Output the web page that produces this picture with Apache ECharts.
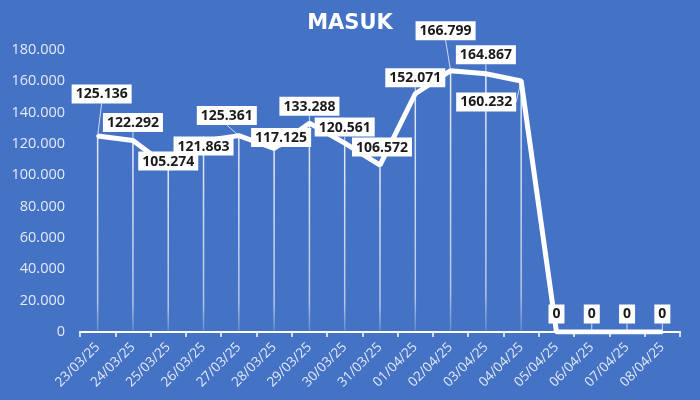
<!DOCTYPE html>
<html>
<head>
<meta charset="utf-8">
<script src="https://cdn.jsdelivr.net/npm/echarts@6/dist/echarts.min.js"></script>
<style>html,body{margin:0;padding:0;background:#4472C4;}#c{width:700px;height:400px;}</style>
</head>
<body>
<div id="c"></div>
<script>
var categories = ['23/03/25','24/03/25','25/03/25','26/03/25','27/03/25','28/03/25','29/03/25','30/03/25','31/03/25','01/04/25','02/04/25','03/04/25','04/04/25','05/04/25','06/04/25','07/04/25','08/04/25'];
var masuk = [125136,122292,105274,121863,125361,117125,133288,120561,106572,152071,166799,164867,160232,0,0,0,0];
var yTicks = {min:0, max:180000, interval:20000};

function fmt(v){ return String(v).replace(/\B(?=(\d{3})+(?!\d))/g,'.'); }

// label nudges (layout only)
var nudges = [[4,-26],[0,-2],[0,10],[0,21],[-12,-4],[7,5],[0,-1],[0,0],[2,-2],[0,0],[-5,-24],[0,-3],[-35,37],[0,-2],[0,-2],[0,-2],[0,-2]];

var chart = echarts.init(document.getElementById('c'));
chart.setOption({
  backgroundColor:'#4472C4',
  animation:false,
  title:{text:'MASUK',left:'center',top:8,textStyle:{color:'#ffffff',fontFamily:'DejaVu Sans',fontWeight:'bold',fontSize:21}},
  grid:{left:80,right:20,top:50,bottom:68},
  xAxis:{type:'category',data:categories,boundaryGap:true,
    axisLine:{lineStyle:{color:'#ffffff',width:2}},
    axisTick:{show:true,length:5,lineStyle:{color:'#ffffff',width:1.5}},
    axisLabel:{rotate:45,color:'#e4eaf6',fontFamily:'Open Sans',fontSize:13.5,margin:13,interval:0}},
  yAxis:{type:'value',min:yTicks.min,max:yTicks.max,interval:yTicks.interval,
    splitLine:{show:false},axisLine:{show:false},axisTick:{show:false},
    axisLabel:{color:'#e4eaf6',fontFamily:'Open Sans',fontSize:14.5,margin:15,formatter:function(v){return fmt(v);}}},
  series:[
    {type:'bar',data:masuk,barWidth:1.5,silent:true,z:1,
      itemStyle:{color:new echarts.graphic.LinearGradient(0,0,0,1,[{offset:0,color:'rgba(255,255,255,0.85)'},{offset:0.85,color:'rgba(255,255,255,0.6)'},{offset:1,color:'rgba(255,255,255,0.15)'}])}},
    {type:'line',data:masuk,z:3,symbol:'circle',symbolSize:3,showSymbol:true,showAllSymbol:true,
      itemStyle:{color:'#ffffff'},
      lineStyle:{color:'#ffffff',width:5},
      label:{show:true,position:'top',distance:5,formatter:function(p){return fmt(p.value);},
        backgroundColor:'#ffffff',color:'#1a1a1a',fontFamily:'Open Sans',fontWeight:'bold',fontSize:14,padding:[3,4,2,4]},
      labelLine:{show:true,lineStyle:{color:'rgba(255,255,255,0.75)',width:1}},
      labelLayout:function(p){var n=nudges[p.dataIndex]||[0,0];return {dx:n[0],dy:n[1]};}
    }
  ]
});
</script>
</body>
</html>
